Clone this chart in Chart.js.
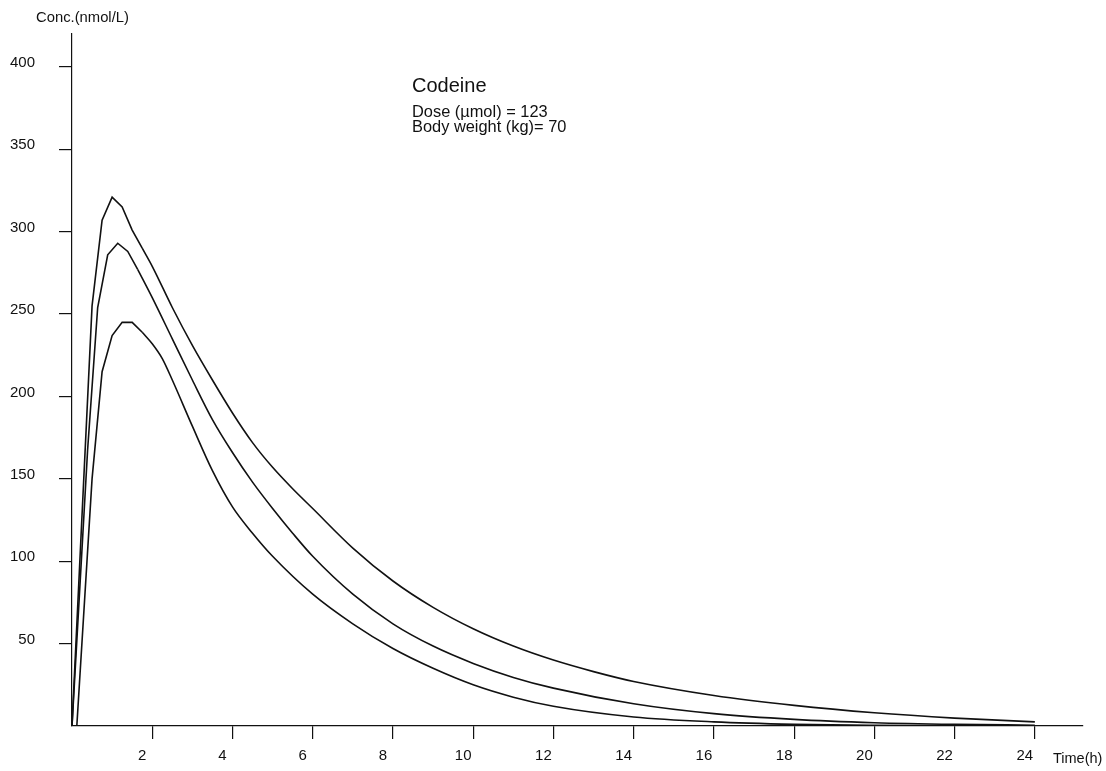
<!DOCTYPE html>
<html>
<head>
<meta charset="utf-8">
<script src="https://cdn.jsdelivr.net/npm/chart.js@4.4.1/dist/chart.umd.min.js"></script>
<style>
  html, body { margin: 0; padding: 0; background: #fff; }
  #wrap { width: 1106px; height: 771px; }
</style>
</head>
<body>
<div id="wrap"><canvas id="conc-chart" width="1106" height="771"></canvas></div>
<script>
// 濃度-時間曲線 (値は図から読み取り)
const timesA = [0, 0.25, 0.5, 0.75, 1, 1.25, 1.5, 1.75, 2, 2.5, 3, 3.5, 4, 4.5, 5, 5.5, 6, 7, 8, 9, 10, 11, 12, 13, 14, 16, 18, 20, 22, 24];
const concA  = [0, 128, 255, 307, 321, 315, 301, 290, 279, 254, 231, 210, 190, 172, 157, 144, 132, 108, 88, 72, 59, 48.5, 40, 33, 27, 18.5, 12.5, 8, 4.8, 2.5];

const timesB = [0, 0.39, 0.64, 0.89, 1.14, 1.39, 1.64, 2, 2.5, 3, 3.5, 4, 4.5, 5, 5.5, 6, 7, 8, 9, 10, 11, 12, 14, 16, 18, 20, 22, 24];
const concB  = [0, 168, 254, 286, 293, 288, 277, 260, 235, 210, 186, 166, 148, 132, 117, 103, 80, 62, 48.5, 38, 29.5, 23, 13.5, 7.5, 4, 2, 1, 0.5];

const timesC = [0.12, 0.5, 0.75, 1, 1.25, 1.5, 1.75, 2, 2.25, 2.5, 3, 3.5, 4, 4.5, 5, 6, 7, 8, 9, 10, 11, 12, 14, 16, 18, 20, 24];
const concC  = [0, 150, 215, 237, 245, 245, 239, 232, 223, 210, 182, 155, 133, 117, 103, 80, 62, 47, 35, 25, 17.5, 12, 5.5, 2.5, 1, 0.4, 0];

// 吸収相 (折れ線) と消失相 (滑らか) の境目
const riseEndA = 7;   // index of t=1.75
const riseEndB = 6;   // t=1.64
const riseEndC = 6;   // t=1.75

const xTickValues = [2, 4, 6, 8, 10, 12, 14, 16, 18, 20, 22, 24];
const yTickValues = [50, 100, 150, 200, 250, 300, 350, 400];

const drugName = 'Codeine';
const infoLines = ['Dose (µmol) = 123', 'Body weight (kg)= 70'];
const yAxisTitle = 'Conc.(nmol/L)';
const xAxisTitle = 'Time(h)';

const FONT = '"Liberation Sans", Arial, sans-serif';

function toPoints(times, values) {
    return times.map((t, i) => ({ x: t, y: values[i] }));
}

function curve(times, values, from, to, smooth) {
    const ds = {
        data: toPoints(times.slice(from, to), values.slice(from, to)),
        borderColor: '#111',
        borderWidth: 1.6,
        pointRadius: 0,
        tension: 0,
        fill: false
    };
    if (smooth) ds.cubicInterpolationMode = 'monotone';
    return ds;
}

function curveParts(times, values, split) {
    return [
        curve(times, values, 0, split + 1, false),
        curve(times, values, split, times.length, true)
    ];
}

// 注釈テキスト
const textPlugin = {
    id: 'labels',
    afterDraw(chart) {
        const ctx = chart.ctx;
        ctx.save();
        ctx.fillStyle = '#111';
        ctx.textAlign = 'left';
        ctx.textBaseline = 'alphabetic';
        ctx.font = '20px ' + FONT;
        ctx.fillText(drugName, 412, 92);
        ctx.font = '16.4px ' + FONT;
        infoLines.forEach((line, i) => ctx.fillText(line, 412, 117 + i * 15));
        ctx.font = '14.8px ' + FONT;
        ctx.fillText(yAxisTitle, 36, 22);
        ctx.font = '14.5px ' + FONT;
        ctx.fillText(xAxisTitle, 1053, 763);
        ctx.restore();
    }
};

new Chart(document.getElementById('conc-chart'), {
    type: 'line',
    data: {
        datasets: [
            ...curveParts(timesA, concA, riseEndA),
            ...curveParts(timesB, concB, riseEndB),
            ...curveParts(timesC, concC, riseEndC)
        ]
    },
    options: {
        responsive: false,
        animation: false,
        layout: { padding: { top: 34, right: 23, left: 0, bottom: 0 } },
        plugins: { legend: { display: false }, tooltip: { enabled: false } },
        scales: {
            x: {
                type: 'linear',
                min: 0,
                max: 25.2,
                afterBuildTicks: s => { s.ticks = xTickValues.map(v => ({ value: v })); },
                afterFit: s => { s.height = 45; },
                border: { display: true, color: '#111', width: 1.2 },
                grid: { drawOnChartArea: false, color: '#111', tickLength: 13, lineWidth: 1.2 },
                ticks: {
                    color: '#111',
                    font: { family: FONT, size: 15 },
                    padding: 8,
                    labelOffset: -10,
                    maxRotation: 0,
                    autoSkip: false
                }
            },
            y: {
                type: 'linear',
                min: 0,
                max: 420,
                afterBuildTicks: s => { s.ticks = yTickValues.map(v => ({ value: v })); },
                afterFit: s => { s.width = 72; },
                border: { display: true, color: '#111', width: 1.2 },
                grid: { drawOnChartArea: false, color: '#111', tickLength: 13, lineWidth: 1.2 },
                ticks: {
                    color: '#111',
                    font: { family: FONT, size: 15 },
                    padding: 24,
                    labelOffset: -4,
                    autoSkip: false
                }
            }
        }
    },
    plugins: [textPlugin]
});
</script>
</body>
</html>
